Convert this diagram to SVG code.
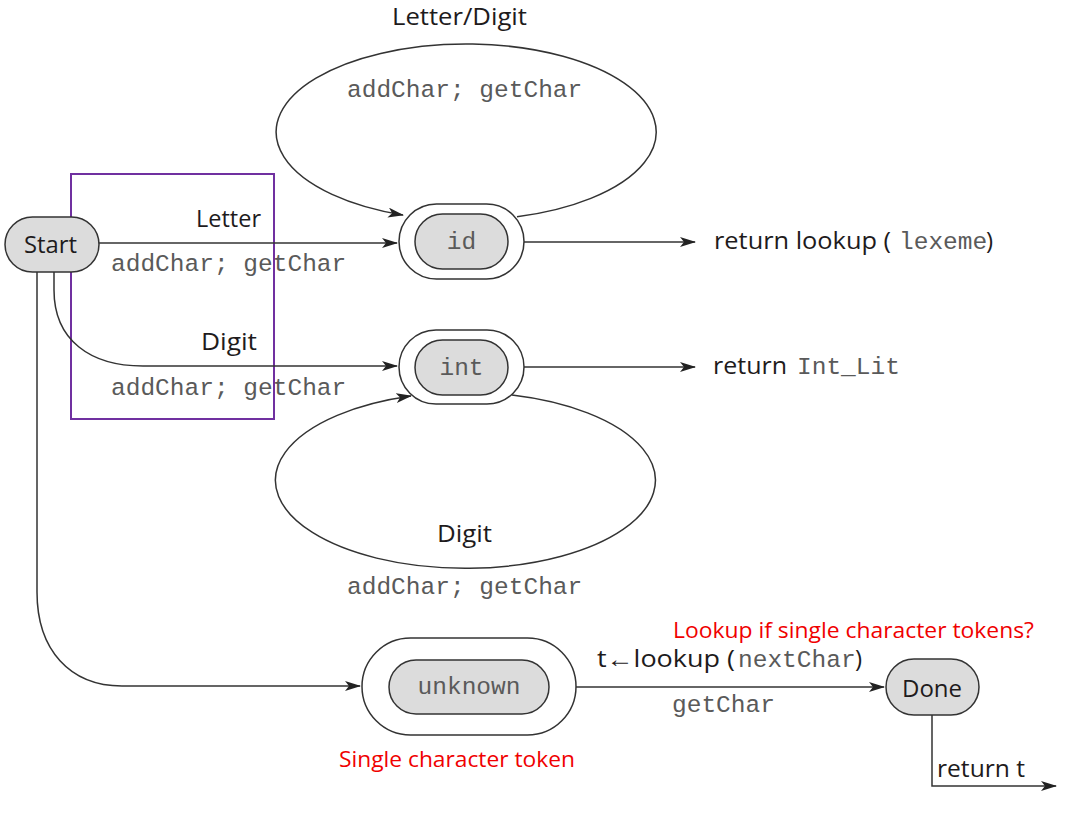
<svg xmlns="http://www.w3.org/2000/svg" width="1065" height="819" viewBox="0 0 1065 819">
<style>
.node{fill:#dcdcdc;stroke:#333;stroke-width:1.5}
.ring{fill:#fff;stroke:#333;stroke-width:1.5}
.edge{fill:none;stroke:#333;stroke-width:1.5}
.sans{font-family:"Open Sans","Noto Sans","Liberation Sans",sans-serif;font-size:24px;fill:#1e1b1c}
.mono{font-family:"Liberation Mono","DejaVu Sans Mono",monospace;font-size:24.5px;fill:#5a5a5a}
.red{font-family:"Open Sans","Noto Sans","Liberation Sans",sans-serif;font-size:22px;fill:#f00000}
</style>
<defs>
<marker id="arr" viewBox="0 0 16 10" refX="15" refY="5" markerWidth="16" markerHeight="10" markerUnits="userSpaceOnUse" orient="auto">
<path d="M0,0 L16,5 L0,10 L4,5 z" fill="#222"/>
</marker>
</defs>
<rect width="1065" height="819" fill="#fff"/>

<g id="highlight">
<rect x="71" y="174" width="203" height="245" fill="none" stroke="#7030a0" stroke-width="2"/>
</g>

<g id="connectors">
<path class="edge" d="M99 243 L397 243" marker-end="url(#arr)"/>
<path class="edge" d="M54 272 L54 290 C54 340 90 366 143 366 L397 366" marker-end="url(#arr)"/>
<path class="edge" d="M37 272 L37 592 C37 650 70 686 122 686 L360 686" marker-end="url(#arr)"/>
<path class="edge" d="M517 216.8 A190 88 0 1 0 403 215" marker-end="url(#arr)"/>
<path class="edge" d="M512 395 A190 88 0 1 1 411 396" marker-end="url(#arr)"/>
<path class="edge" d="M524 242 L695 242" marker-end="url(#arr)"/>
<path class="edge" d="M524 367 L695 367" marker-end="url(#arr)"/>
<path class="edge" d="M576 687 L884 687" marker-end="url(#arr)"/>
<path class="edge" d="M932 715 L932 786 L1056 786" marker-end="url(#arr)"/>
</g>

<g id="labels">
<text class="sans" x="392" y="25" textLength="135" lengthAdjust="spacingAndGlyphs">Letter/Digit</text>
<text class="mono" x="347" y="97">addChar; getChar</text>
<text class="sans" x="196" y="227" textLength="65" lengthAdjust="spacingAndGlyphs">Letter</text>
<text class="mono" x="111" y="271">addChar; getChar</text>
<text class="sans" x="201" y="350" textLength="56" lengthAdjust="spacingAndGlyphs">Digit</text>
<text class="mono" x="111" y="395">addChar; getChar</text>
<text class="sans" x="437" y="542" textLength="55" lengthAdjust="spacingAndGlyphs">Digit</text>
<text class="mono" x="347" y="594">addChar; getChar</text>
<text class="sans" x="714" y="249"><tspan textLength="177" lengthAdjust="spacingAndGlyphs">return lookup (</tspan><tspan class="mono" x="899" y="249">lexeme</tspan><tspan x="986" y="249">)</tspan></text>
<text class="sans" x="713" y="374"><tspan textLength="74" lengthAdjust="spacingAndGlyphs">return</tspan><tspan class="mono" x="797" y="374">Int_Lit</tspan></text>
<text class="sans" x="597" y="667"><tspan textLength="138" lengthAdjust="spacingAndGlyphs">t←lookup (</tspan><tspan class="mono" x="738" y="667">nextChar</tspan><tspan x="855" y="667">)</tspan></text>
<text class="mono" x="672" y="712">getChar</text>
<text class="sans" x="937" y="777" textLength="88" lengthAdjust="spacingAndGlyphs">return t</text>
<text class="red" x="673" y="638" textLength="361" lengthAdjust="spacingAndGlyphs">Lookup if single character tokens?</text>
<text class="red" x="339" y="767" textLength="236" lengthAdjust="spacingAndGlyphs">Single character token</text>
</g>

<g id="node-start">
<rect class="node" x="5" y="217" width="94" height="55" rx="27.5"/>
<text class="sans" x="24" y="253" textLength="53" lengthAdjust="spacingAndGlyphs">Start</text>
</g>

<g id="node-id">
<rect class="ring" x="399" y="204" width="125" height="75" rx="37.5"/>
<rect class="node" x="415" y="214" width="93" height="55" rx="27.5"/>
<text class="mono" x="461.5" y="249" text-anchor="middle">id</text>
</g>

<g id="node-int">
<rect class="ring" x="399" y="330" width="125" height="74" rx="37"/>
<rect class="node" x="415" y="340" width="93" height="55" rx="27.5"/>
<text class="mono" x="461.5" y="375" text-anchor="middle">int</text>
</g>

<g id="node-unknown">
<rect class="ring" x="362" y="638" width="214" height="97" rx="48.5"/>
<rect class="node" x="389" y="660" width="160" height="54" rx="27"/>
<text class="mono" x="469" y="694" text-anchor="middle">unknown</text>
</g>

<g id="node-done">
<rect class="node" x="886" y="659" width="93" height="56" rx="28"/>
<text class="sans" x="902" y="697" textLength="60" lengthAdjust="spacingAndGlyphs">Done</text>
</g>
</svg>
